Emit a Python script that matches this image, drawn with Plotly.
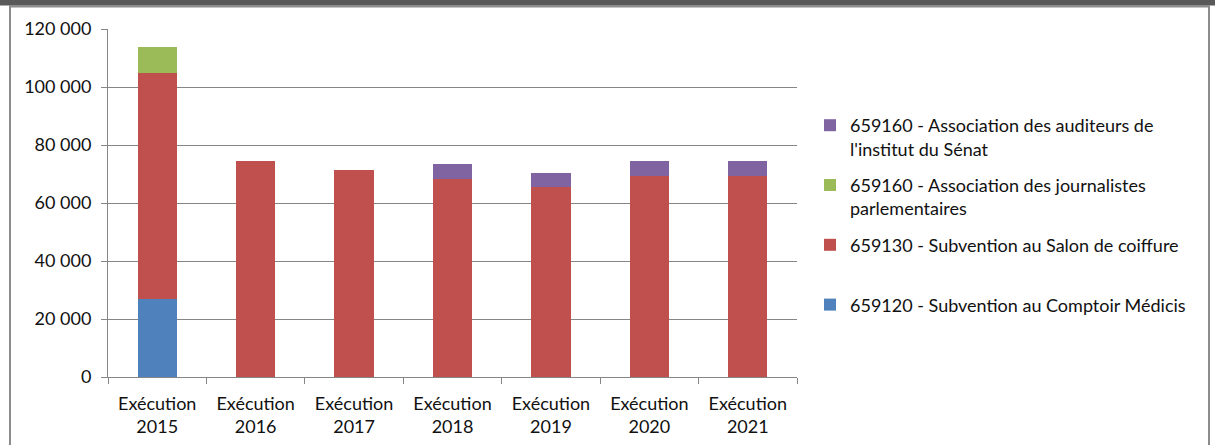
import plotly.graph_objects as go

categories = ["Exécution<br>2015", "Exécution<br>2016", "Exécution<br>2017", "Exécution<br>2018",
              "Exécution<br>2019", "Exécution<br>2020", "Exécution<br>2021"]
comptoir = [27000, 0, 0, 0, 0, 0, 0]
salon = [77900, 74400, 71500, 68300, 65400, 69400, 69400]
journalistes = [9000, 0, 0, 0, 0, 0, 0]
auditeurs = [0, 0, 0, 5200, 5000, 5100, 5100]

names = ["659120 - Subvention au Comptoir Médicis<br> ",
         "659130 - Subvention au Salon de coiffure<br> ",
         "659160 - Association des journalistes<br>parlementaires",
         "659160 - Association des auditeurs de<br>l'institut du Sénat"]
colors = ["#4F81BD", "#C0504D", "#9BBB59", "#8064A2"]
series = [comptoir, salon, journalistes, auditeurs]
yticks = [0, 20000, 40000, 60000, 80000, 100000, 120000]
yticktext = ["0", "20 000", "40 000", "60 000", "80 000", "100 000", "120 000"]

FONT = "Lato"
FS = 18
fig = go.Figure()
n = len(names)
for i, (name, vals, col) in enumerate(zip(names, series, colors)):
    fig.add_trace(go.Bar(x=categories, y=vals, name=name, marker_color=col,
                         marker_line_width=0, legendgroup=f"g{i}",
                         legendrank=(n - i) * 100))

L, T, R, B = 108, 29, 797, 377
W, H = 1215, 445
pw, ph = R - L, B - T
def px(x):
    return (x - L) / pw
def py(y):
    return (B - y) / ph

fig.update_layout(
    width=W, height=H,
    margin=dict(l=L, r=W - R, t=T, b=H - B, pad=0, autoexpand=False),
    barmode="stack", bargap=0.6,
    plot_bgcolor="white", paper_bgcolor="white",
    font=dict(family=FONT, size=FS, color="#111111"),
    showlegend=True,
    legend=dict(x=px(810), y=py(107), xanchor="left", yanchor="top",
                traceorder="grouped", valign="top", tracegroupgap=10,
                font=dict(family=FONT, size=FS, color="#111111"),
                itemwidth=30),
    xaxis=dict(showline=True, linecolor="#868686", linewidth=1, automargin=False,
               ticks="outside", tickson="boundaries", ticklen=6, tickcolor="#868686",
               showgrid=False, tickfont=dict(size=FS), ticklabelstandoff=10),
    yaxis=dict(range=[0, 120000], tickvals=yticks, ticktext=yticktext, automargin=False,
               showline=True, linecolor="#868686", linewidth=1,
               ticks="outside", ticklen=6, tickcolor="#868686",
               showgrid=True, gridcolor="#868686", gridwidth=1,
               tickfont=dict(size=FS), zeroline=False, ticklabelstandoff=6),
    shapes=[
        dict(type="rect", xref="paper", yref="paper", x0=px(-5), x1=px(1220), y0=py(5.5), y1=py(-5),
             fillcolor="#595959", line_width=0, layer="above"),
        dict(type="rect", xref="paper", yref="paper", x0=px(10), x1=px(1209), y0=py(460), y1=py(6.5),
             fillcolor="rgba(0,0,0,0)", line=dict(color="#8c8c8c", width=2), layer="below"),
    ],
)
fig.write_html("out.html", config={"displayModeBar": False},
               post_script="document.body.style.margin='0';")
